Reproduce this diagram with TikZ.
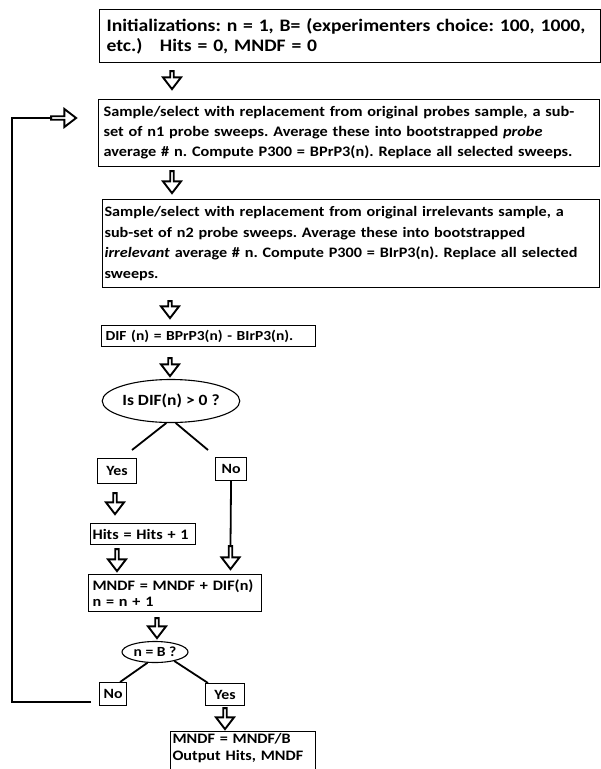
\documentclass[tikz,border=0pt]{standalone}
\usepackage{fontspec}
\setmainfont[FakeStretch=1.12]{Carlito}
\usetikzlibrary{shapes.geometric,shapes.arrows,calc}
\frenchspacing
\begin{document}
\begin{tikzpicture}[x=1bp,y=-1bp,
  box/.style={draw, line width=1.1bp, rectangle, anchor=north west, inner ysep=0pt, align=left, font=\bfseries\fontsize{14.5}{16}\selectfont},
  tag/.style={draw, line width=1.1bp, rectangle, anchor=north west, inner sep=0pt, align=center, font=\bfseries\fontsize{14.2}{16}\selectfont},
  ask/.style={draw, ellipse, line width=1.1bp, inner sep=0pt, font=\bfseries\fontsize{15.7}{18}\selectfont},
  blockarrow/.style={draw, single arrow, line width=1.9bp, inner sep=0pt, minimum width=18bp, single arrow head extend=4bp, single arrow tip angle=75, fill=white},
  link/.style={line width=1.8bp},
  loopline/.style={line width=2.4bp}
]
\clip (0,0) rectangle (601,769);

\node[box, minimum width=501bp, minimum height=53bp, text width=487bp, inner xsep=7bp, font=\bfseries\fontsize{17.6}{20.5}\selectfont] (init) at (99,9)
  {Initializations: n = 1, B= (experimenters choice: 100, 1000,\\etc.)\ \ \ Hits = 0, MNDF = 0};

\node[box, minimum width=501bp, minimum height=67bp, text width=491bp, inner xsep=5bp, font=\bfseries\fontsize{14.6}{20}\selectfont] (probe) at (98,99)
  {Sample/select with replacement from original probes sample, a sub-\\set of n1 probe sweeps. Average these into bootstrapped \textit{probe}\\average \# n. Compute P300 = BPrP3(n). Replace all selected sweeps.};

\node[box, minimum width=497bp, minimum height=88bp, text width=493bp, inner xsep=2bp, font=\bfseries\fontsize{14.5}{21}\selectfont] (irr) at (102,199)
  {Sample/select with replacement from original irrelevants sample, a\\sub-set of n2 probe sweeps. Average these into bootstrapped\\\textit{irrelevant} average \# n. Compute P300 = BIrP3(n). Replace all selected\\sweeps.};

\node[box, minimum width=214bp, minimum height=21bp, text width=206bp, inner xsep=4bp, font=\bfseries\fontsize{13.9}{16}\selectfont] (dif) at (101,325)
  {DIF (n) = BPrP3(n) - BIrP3(n).};

\node[ask, minimum width=124bp, minimum height=43bp] (q1) at (171,401) {Is DIF(n) > 0 ?};

\node[tag, minimum width=39bp, minimum height=25bp] (yes1) at (97,458) {Yes};
\node[tag, minimum width=31bp, minimum height=23bp] (no1) at (215,457) {No};

\node[box, minimum width=105bp, minimum height=21bp, text width=101bp, inner xsep=2bp] (hits) at (90,523)
  {Hits = Hits + 1};

\node[box, minimum width=173bp, minimum height=37bp, text width=165bp, inner xsep=4bp, font=\bfseries\fontsize{14.5}{15.5}\selectfont] (mndf) at (88,574)
  {MNDF = MNDF + DIF(n)\\n = n + 1};

\node[ask, minimum width=66bp, minimum height=21bp, font=\bfseries\fontsize{14}{15}\selectfont] (q2) at (155,652) {n = B ?};

\node[tag, minimum width=27bp, minimum height=23bp] (no2) at (99,682) {No};
\node[tag, minimum width=39bp, minimum height=22bp] (yes2) at (205,683) {Yes};

\node[box, minimum width=145bp, minimum height=54bp, text width=141bp, inner xsep=2bp, font=\bfseries\fontsize{14.5}{18}\selectfont] (final) at (170,731)
  {MNDF = MNDF/B\\Output Hits, MNDF\\\strut};

% block arrows
\node[blockarrow, rotate=-90, minimum height=18bp] (a1) at (172,79) {};
\node[blockarrow, rotate=-90, minimum height=22bp] (a2) at (172,181) {};
\node[blockarrow, rotate=-90, minimum height=17bp] (a3) at (170,308.5) {};
\node[blockarrow, rotate=-90, minimum height=18bp] (a4) at (170,366) {};
\node[blockarrow, rotate=-90, minimum height=21bp] (a5) at (115,502.5) {};
\node[blockarrow, rotate=-90, minimum height=22bp] (a6) at (117,559) {};
\node[blockarrow, rotate=-90, minimum height=23bp] (a7) at (230.5,556.5) {};
\node[blockarrow, rotate=-90, minimum height=20bp] (a8) at (157,627) {};
\node[blockarrow, rotate=-90, minimum height=21bp] (a9) at (225,717.5) {};
\node[blockarrow, minimum height=25bp] (fb) at (62.5,118) {};

% connectors
\coordinate (l1) at (132,450);
\coordinate (r1) at (208,450);
\draw[link] (q1.258) -- (l1);
\draw[link] (q1.282) -- (r1);
\draw[link] (no1.south) -- (a7.west);
\draw[link] (q2.235) -- ($(no2.north east)+(-7,0)$);
\draw[link] (q2.-25) -- ($(yes2.north west)+(3,0)$);
\coordinate (lp) at (91,702);
\coordinate (lc) at (12,702);
\coordinate (tc) at (12,118);
\draw[loopline] (lp) -- (lc) -- (tc) -- (fb.west);
\end{tikzpicture}
\end{document}
